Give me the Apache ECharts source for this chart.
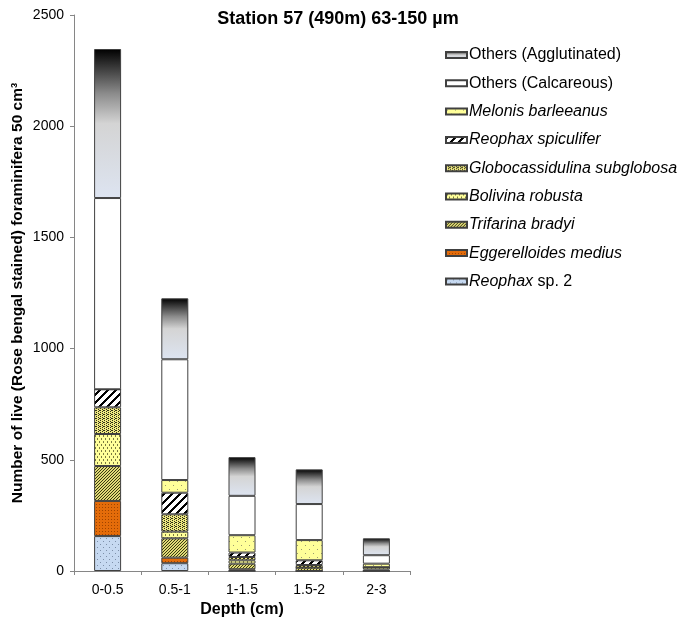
<!DOCTYPE html>
<html>
<head>
<meta charset="utf-8">
<script src="https://cdn.jsdelivr.net/npm/echarts@6/dist/echarts.min.js"></script>
<style>
html,body{margin:0;padding:0;background:#fff;}
#chart{width:697px;height:623px;}
</style>
</head>
<body>
<div id="chart"></div>
<script>
var categories = ['0-0.5', '0.5-1', '1-1.5', '1.5-2', '2-3'];
var reophaxSp2 = [157, 35, 0, 0, 0];
var eggerelloidesMedius = [158, 25, 8, 0, 0];
var trifarinaBradyi = [157, 87, 25, 15, 7];
var bolivinaRobusta = [144, 30, 15, 0, 10];
var globocassidulinaSubglobosa = [120, 78, 15, 12, 0];
var reophaxSpiculifer = [81, 97, 20, 21, 0];
var melonisBarleeanus = [0, 57, 78, 91, 16];
var othersCalcareous = [860, 543, 177, 162, 38];
var othersAgglutinated = [670, 274, 174, 156, 76];
var yTicks = [0, 500, 1000, 1500, 2000, 2500];

var FONT = '"Liberation Sans", Arial, sans-serif';

function makePattern(w, h, bg, fg, fn) {
  var c = document.createElement('canvas');
  c.width = w; c.height = h;
  var ctx = c.getContext('2d');
  ctx.fillStyle = bg;
  ctx.fillRect(0, 0, w, h);
  ctx.fillStyle = fg;
  for (var y = 0; y < h; y++) {
    for (var x = 0; x < w; x++) {
      if (fn(x, y)) ctx.fillRect(x, y, 1, 1);
    }
  }
  return { image: c, repeat: 'repeat' };
}

var patReophaxSp2 = makePattern(6, 6, '#c6d9f1', '#7d8fa8', function (x, y) {
  return (x === 1 && y === 1) || (x === 4 && y === 4);
});
var patEgger = makePattern(3, 3, '#e46c0a', '#a04400', function (x, y) {
  return x === 0 && y === 0;
});
var patTrifarina = makePattern(3, 3, '#e0da78', '#3a3a10', function (x, y) {
  return (x + y) % 3 === 0;
});
var patBolivina = makePattern(4, 6, '#ffff99', '#7a7a40', function (x, y) {
  return (x === 1 && y < 2) || (x === 3 && y >= 3 && y < 5);
});
var patGlobo = makePattern(4, 4, '#eee880', '#303018', function (x, y) {
  return (x + 2 * y) % 4 === 0 || (x === 3 && y === 2);
});
var patSpiculifer = makePattern(8, 8, '#ffffff', '#000000', function (x, y) {
  return (x + y) % 8 < 3;
});
var patMelonis = makePattern(8, 8, '#ffff99', '#9a9a70', function (x, y) {
  return (x === 1 && y === 1) || (x === 5 && y === 5);
});
var gradAgg = new echarts.graphic.LinearGradient(0, 0, 0, 1, [
  { offset: 0, color: '#000000' },
  { offset: 0.3, color: '#8c8c8c' },
  { offset: 0.5, color: '#d4d4d4' },
  { offset: 1, color: '#dde4f1' }
]);

var seriesDefs = [
  { name: 'Reophax sp. 2', data: reophaxSp2, color: patReophaxSp2 },
  { name: 'Eggerelloides medius', data: eggerelloidesMedius, color: patEgger },
  { name: 'Trifarina bradyi', data: trifarinaBradyi, color: patTrifarina },
  { name: 'Bolivina robusta', data: bolivinaRobusta, color: patBolivina },
  { name: 'Globocassidulina subglobosa', data: globocassidulinaSubglobosa, color: patGlobo },
  { name: 'Reophax spiculifer', data: reophaxSpiculifer, color: patSpiculifer },
  { name: 'Melonis barleeanus', data: melonisBarleeanus, color: patMelonis },
  { name: 'Others (Calcareous)', data: othersCalcareous, color: '#ffffff' },
  { name: 'Others (Agglutinated)', data: othersAgglutinated, color: gradAgg }
];

var series = seriesDefs.map(function (d) {
  return {
    name: d.name,
    type: 'bar',
    stack: 'total',
    barWidth: 27,
    data: d.data,
    itemStyle: { color: d.color, borderColor: '#404040', borderWidth: 1 },
    emphasis: { disabled: true },
    animation: false
  };
});

var legendOrder = seriesDefs.map(function (d) { return d.name; }).reverse();

var chart = echarts.init(document.getElementById('chart'), null, { renderer: 'canvas' });
chart.setOption({
  backgroundColor: '#ffffff',
  animation: false,
  title: {
    text: 'Station 57 (490m) 63-150 µm',
    left: 338,
    top: 10,
    padding: 0,
    textAlign: 'center',
    textStyle: { fontFamily: FONT, fontSize: 18, fontWeight: 'bold', color: '#000' }
  },
  legend: {
    orient: 'vertical',
    left: 445,
    top: 46,
    padding: 0,
    icon: 'rect',
    itemWidth: 21,
    itemHeight: 6,
    itemGap: 10.3,
    selectedMode: false,
    data: legendOrder,
    formatter: function (name) {
      if (name.indexOf('Others') === 0) return name;
      if (name === 'Reophax sp. 2') return '{i|Reophax} sp. 2';
      return '{i|' + name + '}';
    },
    textStyle: {
      fontFamily: FONT, fontSize: 16, color: '#000', lineHeight: 18, padding: [0, 0, 0, -3],
      rich: { i: { fontFamily: FONT, fontSize: 16, fontStyle: 'italic', color: '#000', lineHeight: 18 } }
    }
  },
  grid: { left: 74, right: 287, top: 15, bottom: 52, containLabel: false },
  xAxis: {
    type: 'category',
    data: categories,
    name: 'Depth (cm)',
    nameLocation: 'middle',
    nameGap: 30,
    nameTextStyle: { fontFamily: FONT, fontSize: 16, fontWeight: 'bold', color: '#000' },
    axisLine: { lineStyle: { color: '#868686' } },
    axisTick: { show: true, alignWithLabel: false, length: 4, lineStyle: { color: '#868686' } },
    axisLabel: { fontFamily: FONT, fontSize: 14, color: '#000', margin: 12 }
  },
  yAxis: {
    type: 'value',
    min: yTicks[0],
    max: yTicks[yTicks.length - 1],
    interval: yTicks[1] - yTicks[0],
    name: 'Number of live (Rose bengal stained) foraminifera 50 cm³',
    nameLocation: 'middle',
    nameGap: 48,
    nameTextStyle: { fontFamily: FONT, fontSize: 15.5, fontWeight: 'bold', color: '#000' },
    axisLine: { show: true, lineStyle: { color: '#868686' } },
    axisTick: { show: true, length: 4, lineStyle: { color: '#868686' } },
    splitLine: { show: false },
    axisLabel: {
      fontFamily: FONT, fontSize: 14, color: '#000', margin: 10,
      formatter: function (v) { return String(v); }
    }
  },
  series: series
});
</script>
</body>
</html>
